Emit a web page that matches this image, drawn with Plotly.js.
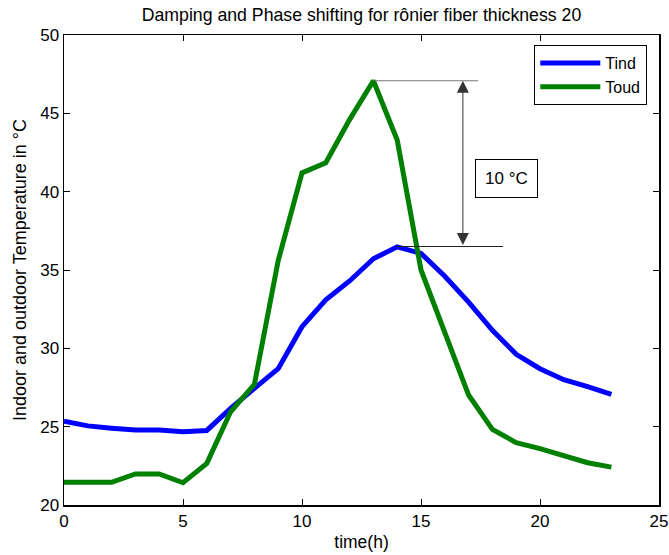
<!DOCTYPE html>
<html><head><meta charset="utf-8">
<script src="https://cdn.plot.ly/plotly-3.0.1.min.js"></script>
<style>body{margin:0;background:#fff}#chart{width:669px;height:555px}</style>
</head><body><div id="chart"></div>
<script>
const hours = [0,1,2,3,4,5,6,7,8,9,10,11,12,13,14,15,16,17,18,19,20,21,22,23];
const tind = [25.35,25.05,24.9,24.78,24.78,24.68,24.76,26.17,27.44,28.7,31.38,33.1,34.3,35.72,36.48,36.06,34.6,32.95,31.15,29.62,28.7,28.0,27.55,27.06];
const toud = [21.45,21.45,21.45,21.98,21.98,21.42,22.66,25.95,27.7,35.6,41.2,41.85,44.6,47.08,43.3,35.0,31.0,27.02,24.83,23.98,23.6,23.18,22.7,22.42];
const seriesNames = ['Tind','Toud'];
const peakOut = {x:13, y:47.08};
const peakIn = {x:14, y:36.5};
const dimX = 16.76;
const dimLabel = '10 °C';
const font = 'Liberation Sans, Arial, sans-serif';

const traces = [
 {x:hours, y:tind, name:seriesNames[0], legendgroup:'a', mode:'lines', line:{color:'#0000ff', width:5}},
 {x:hours, y:toud, name:seriesNames[1], legendgroup:'b', mode:'lines', line:{color:'#008000', width:5}}
];
const layout = {
 width:669, height:555,
 margin:{l:64, r:10, t:35, b:50},
 paper_bgcolor:'#fff', plot_bgcolor:'#fff',
 font:{family:font, size:17, color:'#000'},
 title:{text:'Damping and Phase shifting for rônier fiber thickness 20', font:{size:17.7}, xref:'paper', x:0.5, xanchor:'center', y:0.973, yanchor:'middle'},
 xaxis:{range:[0,25], dtick:5, ticks:'inside', ticklen:6, tickcolor:'#000', mirror:'ticks', showline:true, linecolor:'#000', linewidth:1.5, showgrid:false, zeroline:false,
   title:{text:'time(h)', font:{size:17.5}, standoff:6}, tickfont:{size:17}},
 yaxis:{range:[20,50], dtick:5, ticks:'inside', ticklen:6, tickcolor:'#000', mirror:'ticks', showline:true, linecolor:'#000', linewidth:1.5, showgrid:false, zeroline:false,
   title:{text:'Indoor and outdoor Temperature in °C', font:{size:18}, standoff:9}, tickfont:{size:17}},
 legend:{x:0.98, y:0.979, xanchor:'right', yanchor:'top', bordercolor:'#000', borderwidth:1.2, bgcolor:'#fff', font:{size:16}, tracegroupgap:0, itemwidth:60},
 shapes:[
  {type:'line', xref:'x', yref:'y', x0:peakOut.x, x1:17.4, y0:peakOut.y, y1:peakOut.y, line:{color:'#777', width:1}},
  {type:'line', xref:'x', yref:'y', x0:peakIn.x, x1:18.45, y0:peakIn.y, y1:peakIn.y, line:{color:'#222', width:1}}
 ],
 annotations:[
  {x:dimX, y:peakOut.y, ax:dimX, ay:peakIn.y, xref:'x', yref:'y', axref:'x', ayref:'y', text:'', showarrow:true,
   arrowhead:2, startarrowhead:2, arrowside:'end+start', arrowsize:2.4, startarrowsize:2.4, arrowwidth:1, arrowcolor:'#333'},
  {x:18.6, y:40.84, xref:'x', yref:'y', text:dimLabel, showarrow:false, font:{size:17}, bordercolor:'#000', borderwidth:1, borderpad:9, bgcolor:'#fff'}
 ]
};
Plotly.newPlot('chart', traces, layout, {displayModeBar:false, staticPlot:true});
</script></body></html>
